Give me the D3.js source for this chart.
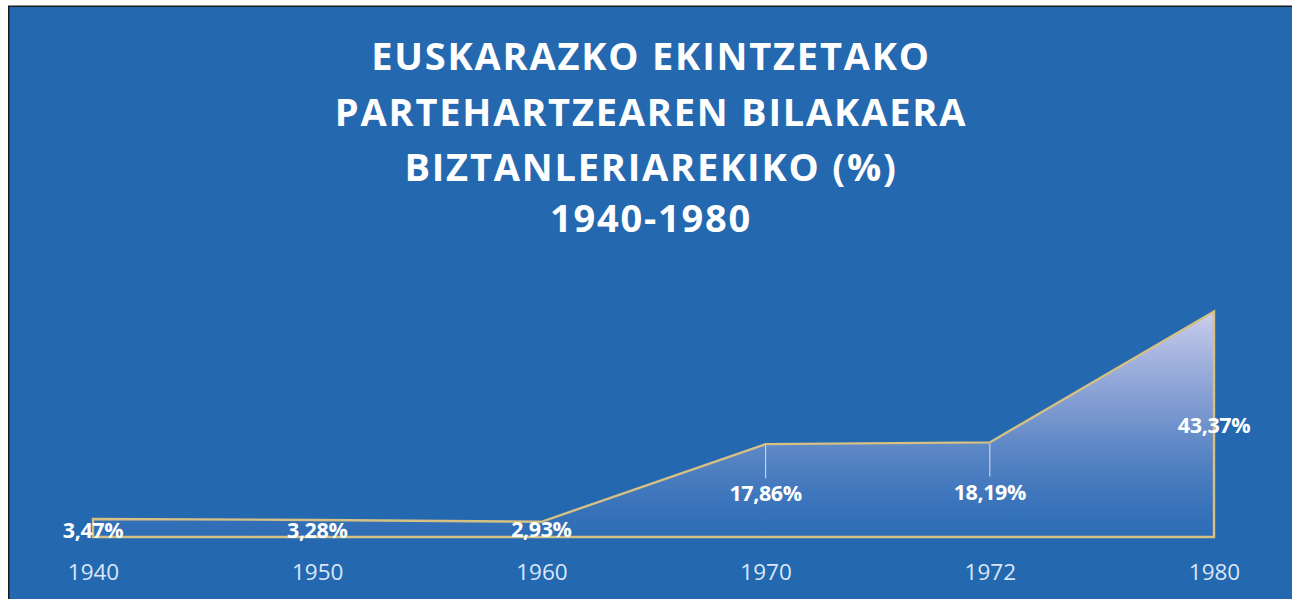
<!DOCTYPE html>
<html><head><meta charset="utf-8">
<script src="https://cdn.jsdelivr.net/npm/d3@7"></script>
<style>html,body{margin:0;padding:0;background:#fff;}svg{display:block;}</style>
</head><body>
<svg id="c" width="1292" height="599"></svg>
<script>
const categories = ["1940","1950","1960","1970","1972","1980"];
const values = [3.47, 3.28, 2.93, 17.86, 18.19, 43.37];
const valueLabels = ["3,47%","3,28%","2,93%","17,86%","18,19%","43,37%"];
const titleLines = ["EUSKARAZKO EKINTZETAKO","PARTEHARTZEAREN BILAKAERA","BIZTANLERIAREKIKO (%)","1940-1980"];

const svg = d3.select("#c");
const W = 1292, H = 599;
// panel
svg.append("rect").attr("x",8).attr("y",5.5).attr("width",W-8).attr("height",H-5.5).attr("fill","#1a1a1a");
svg.append("rect").attr("x",9.5).attr("y",7).attr("width",W-9.5).attr("height",H-7).attr("fill","#2468b0");

const defs = svg.append("defs");
const x = d3.scalePoint().domain(categories).range([93, 1214]);
const y = d3.scaleLinear().domain([0, 50]).range([537, 277]);

const g = defs.append("linearGradient").attr("id","ag").attr("gradientUnits","userSpaceOnUse")
  .attr("x1",0).attr("x2",0).attr("y1",y(43.37)).attr("y2",y(0));
g.append("stop").attr("offset","0").attr("stop-color","#d4d4f0").attr("stop-opacity",0.95);
g.append("stop").attr("offset","0.45").attr("stop-color","#97a8da").attr("stop-opacity",0.75);
g.append("stop").attr("offset","1").attr("stop-color","#3d74bf").attr("stop-opacity",0.35);

const data = categories.map((c,i)=>({c, v: values[i], l: valueLabels[i]}));
const area = d3.area().x(d=>x(d.c)).y0(y(0)).y1(d=>y(d.v));
svg.append("path").datum(data).attr("d", area).attr("fill","url(#ag)");

// drop lines
svg.selectAll("line.drop").data(data.filter(d=>d.c==="1970"||d.c==="1972")).enter().append("line")
  .attr("x1",d=>x(d.c)).attr("x2",d=>x(d.c)).attr("y1",d=>y(d.v)+1).attr("y2",d=>y(d.v)+34)
  .attr("stroke","#dfe6f6").attr("stroke-width",1.2).attr("opacity",0.8);

// outline
const outline = data.map(d=>[x(d.c), y(d.v)]);
const pts = [[x(categories[0]), y(0)], ...outline, [x(categories[categories.length-1]), y(0)]];
svg.append("path").attr("d", d3.line()(pts) + "Z").attr("fill","none")
  .attr("stroke","#d6c083").attr("stroke-width",2.4).attr("stroke-linejoin","miter");

// value labels
const labelOff = {"1940":19,"1950":18,"1960":15.5,"1970":57,"1972":58,"1980":122};
svg.selectAll("text.val").data(data).enter().append("text")
  .attr("x",d=>x(d.c)).attr("y",d=>y(d.v)+labelOff[d.c])
  .attr("text-anchor","middle").attr("font-family","Open Sans, sans-serif").attr("font-weight",700)
  .attr("font-size",21.5).attr("letter-spacing",-0.4).attr("fill","#ffffff").text(d=>d.l);

// axis labels
const xAxis = d3.axisBottom(x).tickSize(0).tickPadding(0);
const ax = svg.append("g").attr("transform",`translate(0,${y(0)})`).call(xAxis);
ax.select(".domain").remove();
ax.selectAll("text").attr("y",43).attr("dy","0").attr("font-family","Open Sans, sans-serif")
  .attr("font-size",22.5).attr("fill","#dbe6f8");

// title
svg.selectAll("text.title").data(titleLines).enter().append("text")
  .attr("x",651).attr("y",(d,i)=>[70,126,181,232][i])
  .attr("text-anchor","middle").attr("font-family","Open Sans, sans-serif").attr("font-weight",700)
  .attr("font-size",38).attr("fill","#ffffff").attr("letter-spacing",1.8).text(d=>d);
</script>
</body></html>
